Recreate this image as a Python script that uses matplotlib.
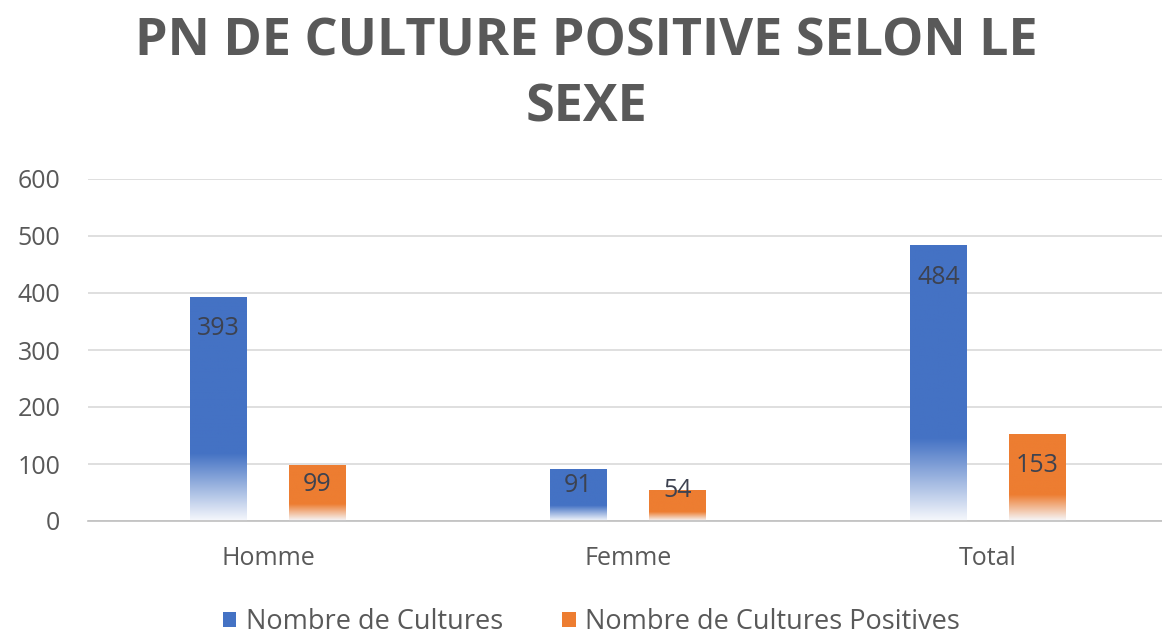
import numpy as np
import matplotlib.pyplot as plt
from matplotlib.colors import LinearSegmentedColormap
from matplotlib.patches import Patch

plt.rcParams['font.family'] = ['Open Sans', 'DejaVu Sans']

categories = ['Homme', 'Femme', 'Total']
nb_cultures = [393, 91, 484]
nb_positives = [99, 54, 153]
series_names = ['Nombre de Cultures', 'Nombre de Cultures Positives']
title = 'PN DE CULTURE POSITIVE SELON LE\nSEXE'

BLUE = '#4472c4'
ORANGE = '#ed7d31'
GREY = '#595959'


def gradient_bar(ax, bar, color):
    # solid on top, fading to white over the lower part of the bar
    x0, y0 = bar.get_x(), bar.get_y()
    w, h = bar.get_width(), bar.get_height()
    cmap = LinearSegmentedColormap.from_list(
        'fade', [(0.0, '#f6f8fc'), (0.3, color), (1.0, color)])
    grad = np.linspace(0, 1, 256).reshape(-1, 1)
    im = ax.imshow(grad, cmap=cmap, origin='lower', aspect='auto',
                   extent=(x0, x0 + w, y0, y0 + h), zorder=2)
    im.set_clip_path(bar)
    bar.set_facecolor('none')


fig = plt.figure(figsize=(11.62, 6.35), dpi=100)
ax = fig.add_axes([88 / 1162, 1 - 521 / 635, 1080 / 1162, 342 / 635])

x = np.arange(len(categories))
width = 0.158
off = 0.1375
bars1 = ax.bar(x - off, nb_cultures, width, color=BLUE, zorder=2, linewidth=0)
bars2 = ax.bar(x + off, nb_positives, width, color=ORANGE, zorder=2, linewidth=0)

for bars, col in ((bars1, BLUE), (bars2, ORANGE)):
    for b in bars:
        gradient_bar(ax, b, col)
        v = b.get_height()
        drop = min(56, max(0, (v - 52.6) * 0.75))
        ax.text(b.get_x() + b.get_width() / 2, v - drop, f'{v:.0f}',
                ha='center', va='center', fontsize=18, color='#3d4250', zorder=4)

ax.set_xlim(-0.5, 2.5)
ax.set_ylim(0, 600)
ax.set_yticks(range(0, 601, 100))
ax.set_xticks(x)
ax.set_xticklabels(categories)
ax.yaxis.grid(True, color='#d9d9d9', linewidth=1.2, zorder=0)
ax.set_axisbelow(True)
for s in ('top', 'right', 'left'):
    ax.spines[s].set_visible(False)
ax.spines['bottom'].set_color('#bfbfbf')
ax.spines['bottom'].set_linewidth(1.2)
ax.tick_params(axis='both', length=0, labelsize=18, labelcolor=GREY)
ax.tick_params(axis='y', pad=20)
ax.tick_params(axis='x', pad=18)

fig.text(0.505, 1 - 75 / 635, title, ha='center', va='center', fontsize=37.5,
         fontweight='bold', color=GREY, linespacing=1.34)

handles = [Patch(facecolor=BLUE), Patch(facecolor=ORANGE)]
fig.legend(handles, series_names, loc='center', bbox_to_anchor=(0.509, 0.02),
           ncol=2, frameon=False, fontsize=19.5, labelcolor=GREY,
           handlelength=0.5, handleheight=0.5, handletextpad=0.35,
           columnspacing=2.2)

fig.savefig('out.png')
